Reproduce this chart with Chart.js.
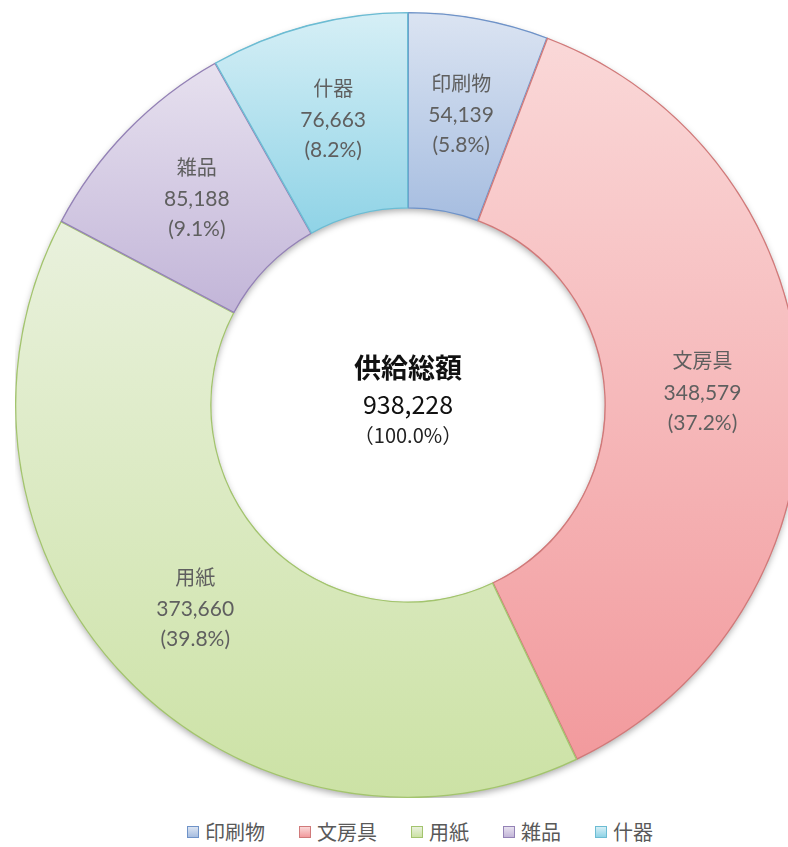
<!DOCTYPE html>
<html>
<head>
<meta charset="utf-8">
<script src="https://cdn.jsdelivr.net/npm/chart.js@4/dist/chart.umd.min.js"></script>
<style>
	html, body { margin:0; padding:0; background:#fff; overflow:hidden; width:788px; height:847px; }
	#wrap { position:absolute; left:15px; top:12px; width:786px; height:786px; }
	#legend { position:absolute; left:0; top:819px; width:840px; display:flex; justify-content:center; gap:34px;
		font-family:'Noto Sans CJK JP', sans-serif; font-size:20px; line-height:26px; color:#595959; }
	#legend span { display:flex; align-items:center; }
	#legend i { display:inline-block; width:10px; height:10px; margin-right:6px; border:1px solid; }
</style>
</head>
<body>
<div id="wrap"><canvas id="c"></canvas></div>
<div id="legend"></div>
<script>
const categories = ['印刷物', '文房具', '用紙', '雑品', '什器'];
const values = [54139, 348579, 373660, 85188, 76663];
const shares = ['5.8%', '37.2%', '39.8%', '9.1%', '8.2%'];
const centerLines = ['供給総額', '938,228', '（100.0%）'];

// light (top) / dark (bottom) / line colour per slice
const warnaAtas = ['#dbe4f2', '#fad8d8', '#e9f1dd', '#e7e1ef', '#d6eff6'];
const warnaBawah = ['#a6bde0', '#f29a9d', '#cce2a5', '#c2b5d8', '#8fd3e6'];
const warnaGaris = ['#6f93c8', '#d07a7a', '#a3c46e', '#9482b6', '#6cbcd3'];

const fmt = n => n.toLocaleString('en-US');

const geom = chart => {
	const area = chart.chartArea;
	return {
		cx: (area.left + area.right) / 2,
		cy: (area.top + area.bottom) / 2,
		r: Math.min(area.right - area.left, area.bottom - area.top) / 2,
	};
};

// gradient per slice, spanning the slice's own vertical extent
const isiSlice = ctx => {
	const ch = ctx.chart, i = ctx.dataIndex;
	if (!ch.chartArea) return warnaAtas[i];
	const total = values.reduce((a, b) => a + b, 0);
	let s = 0;
	for (let k = 0; k < i; k++) s += values[k];
	const a0 = s / total * Math.PI * 2, a1 = (s + values[i]) / total * Math.PI * 2;
	const { cy, r } = geom(ch);
	let lo = 1e9, hi = -1e9;
	for (let t = 0; t <= 40; t++) {
		const a = a0 + (a1 - a0) * t / 40;
		[r, r * 0.5].forEach(rr => {
			const y = cy - Math.cos(a) * rr;
			lo = Math.min(lo, y); hi = Math.max(hi, y);
		});
	}
	const g = ch.ctx.createLinearGradient(0, lo, 0, hi);
	g.addColorStop(0, warnaAtas[i]);
	g.addColorStop(1, warnaBawah[i]);
	return g;
};

// soft drop shadow under the whole ring
const bayangan = {
	id: 'bayangan',
	beforeDatasetsDraw(chart) {
		const c = chart.ctx, { cx, cy, r } = geom(chart);
		c.save();
		c.shadowColor = 'rgba(0,0,0,0.35)';
		c.shadowBlur = 7;
		c.shadowOffsetY = 3;
		c.fillStyle = '#fff';
		c.beginPath();
		c.arc(cx, cy, r - 1, 0, Math.PI * 2);
		c.arc(cx, cy, r * 0.5 + 1, 0, Math.PI * 2, true);
		c.fill();
		c.restore();
	}
};

const labelSlice = {
	id: 'labelSlice',
	afterDatasetsDraw(chart) {
		const c = chart.ctx;
		c.save();
		c.textAlign = 'center';
		c.textBaseline = 'middle';
		c.fillStyle = '#5f5f5f';
		chart.getDatasetMeta(0).data.forEach((el, i) => {
			const p = el.getCenterPoint();
			c.font = '20px "Noto Sans CJK JP", sans-serif';
			c.fillText(categories[i], p.x, p.y - 32);
			c.font = '21px Lato, "Noto Sans CJK JP", sans-serif';
			c.fillText(fmt(values[i]), p.x, p.y);
			c.fillText('(' + shares[i] + ')', p.x, p.y + 30);
		});
		const { cx, cy } = geom(chart);
		c.fillStyle = '#111';
		c.font = 'bold 27px "Noto Sans CJK JP", sans-serif';
		c.fillText(centerLines[0], cx, cy - 37);
		c.font = '25px "Noto Sans CJK JP", sans-serif';
		c.fillText(centerLines[1], cx, cy - 1);
		c.font = '20px "Noto Sans CJK JP", sans-serif';
		c.fillStyle = '#222';
		c.fillText(centerLines[2], cx, cy + 30);
		c.restore();
	}
};

new Chart(document.getElementById('c'), {
	type: 'doughnut',
	data: {
		labels: categories,
		datasets: [{
			data: values,
			backgroundColor: isiSlice,
			borderColor: warnaGaris,
			borderWidth: 1,
			borderAlign: 'inner',
		}]
	},
	options: {
		responsive: true,
		maintainAspectRatio: false,
		animation: false,
		cutout: '50%',
		layout: { padding: 0 },
		plugins: {
			legend: { display: false },
			tooltip: { enabled: false },
		},
	},
	plugins: [bayangan, labelSlice],
});

(a => {
	categories.forEach((k, i) => {
		const s = document.createElement('span');
		s.innerHTML = '<i style="background:linear-gradient(' + warnaAtas[i] + ',' + warnaBawah[i] + ');border-color:' + warnaGaris[i] + '"></i>' + k;
		a.appendChild(s);
	});
})(document.getElementById('legend'));
</script>
</body>
</html>
